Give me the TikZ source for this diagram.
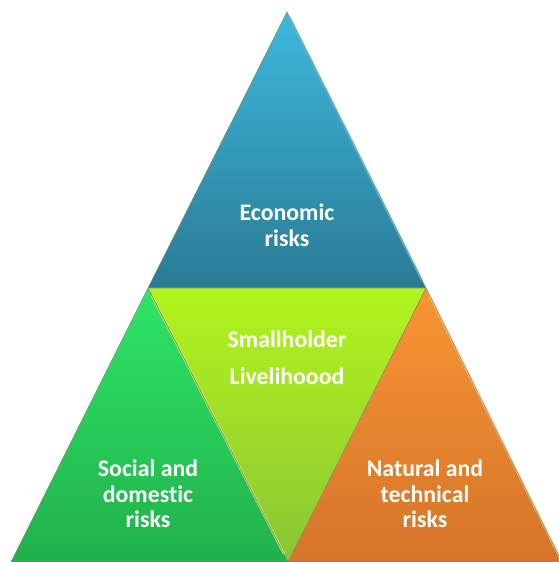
\documentclass[tikz,border=0pt]{standalone}
\usepackage{fontspec}
\setmainfont[Ligatures=NoCommon]{Carlito}
\usetikzlibrary{calc}
\definecolor{bluetop}{HTML}{3DB8DC}
\definecolor{bluebot}{HTML}{2A7B95}
\definecolor{limetop}{HTML}{B2F41C}
\definecolor{limebot}{HTML}{89C634}
\definecolor{greentop}{HTML}{2EE665}
\definecolor{greenbot}{HTML}{21B04C}
\definecolor{orangetop}{HTML}{F99532}
\definecolor{orangebot}{HTML}{D5742A}
\definecolor{edgegray}{HTML}{8A8A7A}
\tikzset{
  lbl/.style={text=white, font=\bfseries\fontsize{23.8}{25.5}\selectfont, align=center, inner sep=0pt},
  rim/.style={draw=edgegray, line width=0.6pt, line join=round},
  hl/.style={line width=2.2pt, line cap=round},
}
\begin{document}
\begin{tikzpicture}[x=1pt,y=1pt]
\useasboundingbox (0,0) rectangle (558,562);
\coordinate (A) at (287,550);
\coordinate (L) at (148,274);
\coordinate (R) at (426,274);
\coordinate (B) at (288,0);
\coordinate (GL) at (11,0);
\coordinate (OR) at (562,0);
% top blue
\shade[top color=bluetop, bottom color=bluebot] (A) -- (L) -- (R) -- cycle;
% middle lime
\shade[top color=limetop, bottom color=limebot] (L) -- (R) -- (B) -- cycle;
% left green
\shade[top color=greentop, bottom color=greenbot] (L) -- (GL) -- (B) -- cycle;
% right orange
\shade[top color=orangetop, bottom color=orangebot] (R) -- (B) -- (OR) -- cycle;
% bevel highlights
\draw[hl, color=cyan!60!white, opacity=0.7] ($(A)!0.02!(R)$) -- ($(A)!0.97!(R)$);
\draw[hl, color=yellow!70!white, opacity=0.8] ($(L)!0.03!(B)$) -- ($(L)!0.97!(B)$);
\draw[hl, color=yellow!50!orange!40!white, opacity=0.6] ($(R)!0.03!(OR)$) -- ($(R)!0.99!(OR)$);
\draw[hl, color=cyan!50!green!60!white, opacity=0.5, line width=1.5pt] ($(L)!0.05!(B)$) -- ($(L)!0.95!(B)$);
% outlines
\draw[rim] (A) -- (L) -- (R) -- cycle;
\draw[rim] (L) -- (B) -- (R);
\draw[rim] (L) -- (GL);
\draw[rim] (R) -- (OR);
% labels
\node[lbl] (eco) at (287,337) {Economic\\risks};
\node[lbl] (small) at (287,223) {Smallholder};
\node[lbl] (live) at (287,186) {Livelihoood};
\node[lbl] (soc) at (148,68) {Social and\\domestic\\risks};
\node[lbl] (nat) at (425,68) {Natural and\\technical\\risks};
\end{tikzpicture}
\end{document}
